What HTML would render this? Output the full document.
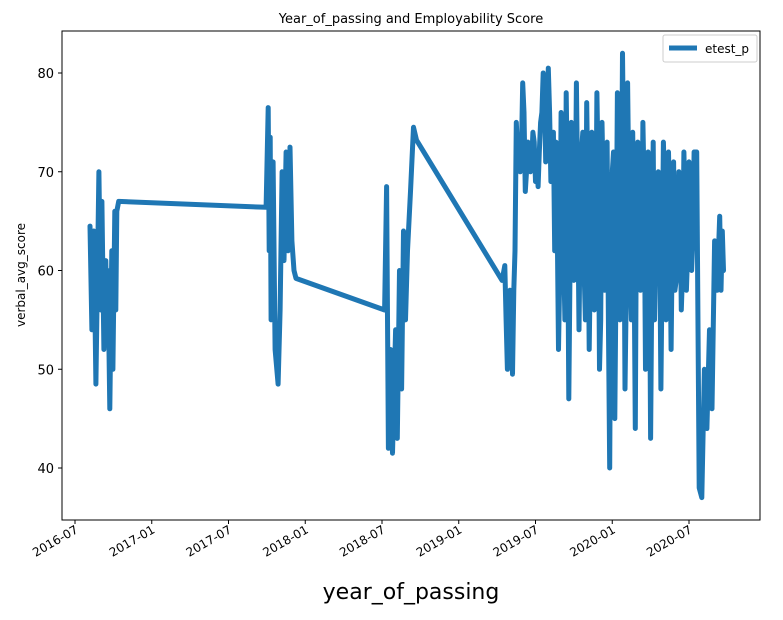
<!DOCTYPE html>
<html><head><meta charset="utf-8"><style>
body{margin:0;background:#fff;}
svg text{font-family:"DejaVu Sans","Liberation Sans",sans-serif;}
</style></head><body>
<svg id="chart" width="783" height="615" xmlns="http://www.w3.org/2000/svg">
<rect width="783" height="615" fill="#fff"/>
<text x="411" y="23" font-size="13" text-anchor="middle">Year_of_passing and Employability Score</text>
<text transform="translate(25,275) rotate(-90)" font-size="12" text-anchor="middle">verbal_avg_score</text>
<text x="411" y="599" font-size="22" text-anchor="middle">year_of_passing</text>
<g id="ticks"></g>
<path id="series" fill="none" stroke="#1f77b4" stroke-width="5" stroke-linejoin="round" stroke-linecap="round"/>
<rect x="62" y="31" width="698" height="489" fill="none" stroke="#000" stroke-width="1"/>
<g>
<rect x="663" y="35" width="94" height="27" fill="#fff" stroke="#ccc" rx="2"/>
<line x1="669" y1="48" x2="697" y2="48" stroke="#1f77b4" stroke-width="5"/>
<text x="705" y="53" font-size="12">etest_p</text>
</g>
</svg>
<script>
// months since 2016-07-01
const months=[1.17,1.32,1.48,1.63,1.87,2.02,2.1,2.26,2.41,2.49,2.57,2.72,2.88,2.96,3.11,3.19,3.27,3.42,14.94,15.1,15.18,15.26,15.33,15.49,15.64,15.88,16.03,16.19,16.34,16.5,16.65,16.81,16.96,17.12,17.28,24.2,24.36,24.5,24.67,24.82,25.06,25.2,25.37,25.53,25.68,25.84,25.99,26.23,26.46,26.7,
33.39,33.6,33.7,33.8,33.9,34.0,34.1,34.2,34.3,34.4,34.5,34.6,34.7,34.8,34.9,35.0,35.1,35.2,35.3,35.4,35.5,35.6,35.7,35.8,35.9,36.0,36.1,36.2,36.3,36.4,36.5,36.6,36.7,36.8,36.9,37.0,37.1,37.2,37.3,37.4,37.5,37.6,37.7,37.8,37.9,38.0,38.1,38.2,38.3,38.4,38.5,38.6,38.7,38.8,38.9,39.0,39.1,39.2,39.3,39.4,39.5,39.6,39.7,39.8,39.9,40.0,40.1,40.2,40.3,40.4,40.5,40.6,40.7,40.8,40.9,41.0,41.1,41.2,41.3,41.4,41.5,41.6,41.7,41.8,41.9,42.0,42.1,42.2,42.3,42.4,42.5,42.6,42.7,42.8,42.9,43.0,43.1,43.2,43.3,43.4,43.5,43.6,43.7,43.8,43.9,44.0,44.1,44.2,44.3,44.4,44.5,44.6,44.7,44.8,44.9,45.0,45.1,45.2,45.3,45.4,45.5,45.6,45.7,45.8,45.9,46.0,46.1,46.2,46.3,46.4,46.5,46.6,46.7,46.8,46.9,47.0,47.1,47.2,47.3,47.4,47.5,47.6,47.7,47.8,47.9,48.0,48.1,48.2,48.3,48.4,48.5,48.6,48.8,49.0,49.2,49.4,49.6,49.8,50.0,50.2,50.4,50.5,50.6,50.7];
const scores=[64.5,54,64,48.5,70,56,67,52,61,54,60,46,62,50,66,56,66,67,66.4,76.5,62,73.5,55,71,52,48.5,56,70,61,72,62,72.5,63,60,59.2,56,68.5,42,52,41.5,54,43,60,48,64,55,62,68,74.5,73.2,
59,60.5,55,50,52,58,56,49.5,58,62,75,72,73,70,72,79,76,68,70,73,72,70,71,74,73,69,71,68.5,72,75,76,80,78,71,74,80.5,76,69,71,74,62,73,65,52,60,76,70,62,55,78,68,47,60,75,70,59,65,79,68,54,66,72,74,60,55,77,68,52,62,74,70,56,60,78,70,50,55,75,68,58,62,73,55,40,65,70,72,45,60,78,70,55,62,82,70,48,58,79,68,60,55,74,62,44,70,73,65,58,60,75,68,50,58,72,65,43,60,73,55,62,62,70,65,48,60,73,68,55,60,72,65,52,64,71,58,59,62,70,68,56,60,72,66,58,62,71,68,60,63,72,72,72,38,37,50,44,54,46,63,58,65.5,58,64,60];
const yTicks=[40,50,60,70,80];
const xTickLabels=["2016-07","2017-01","2017-07","2018-01","2018-07","2019-01","2019-07","2020-01","2020-07"];
const xTickMonths=[0,6,12,18,24,30,36,42,48];
const X=m=>75+m*(614/48);
const Y=v=>468-(v-40)*(395/40);
const NS="http://www.w3.org/2000/svg";
const g=document.getElementById('ticks');
function mk(t,a){const e=document.createElementNS(NS,t);for(const k in a)e.setAttribute(k,a[k]);g.appendChild(e);return e;}
yTicks.forEach(v=>{
  const l=mk('line',{x1:58,x2:62,y1:Y(v),y2:Y(v),stroke:'#000'});
  
  
  const t=mk('text',{x:54,y:Y(v)+5,'font-size':13,'text-anchor':'end'});
  
  
  t.textContent=v;
});
xTickMonths.forEach((m,i)=>{
  const x=X(m);
  const l=mk('line',{x1:x,x2:x,y1:520,y2:524,stroke:'#000'});
  
  
  const t=mk('text',{transform:`translate(${x+4},${532}) rotate(-30)`,'font-size':12,'text-anchor':'end'});
  
  
  t.textContent=xTickLabels[i];
});
document.getElementById('series').setAttribute('d',months.map((m,i)=>(i?'L':'M')+X(m).toFixed(1)+' '+Y(scores[i]).toFixed(1)).join(' '));
</script>
</body></html>
